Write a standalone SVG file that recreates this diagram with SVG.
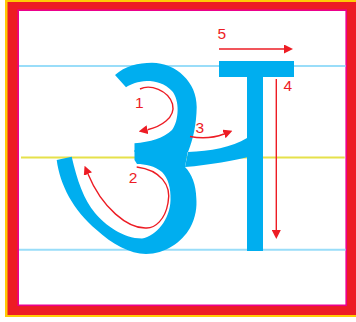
<svg xmlns="http://www.w3.org/2000/svg" width="356" height="322" viewBox="0 0 356 322">
<defs>
<style>
.guide{stroke-width:2;fill:none}
.glyph{fill:#00AEEF}
.arr{stroke:#ED1C24;stroke-width:1.4;fill:none;marker-end:url(#head)}
.num{font-family:"Liberation Sans",Arial,sans-serif;font-size:15.5px;fill:#ED1C24}
</style>
<marker id="head" viewBox="0 0 10 10" refX="0" refY="5" markerUnits="userSpaceOnUse" markerWidth="9" markerHeight="9" orient="auto">
<path d="M0,0 L10,5 L0,10 Z" fill="#ED1C24"/>
</marker>
</defs>
<rect width="356" height="322" fill="#FFFFFF"/>
<g id="frame">
<rect x="5" y="0" width="400" height="317" fill="#FFCB05"/>
<rect x="7.5" y="2" width="400" height="313" fill="#ED1C24"/>
<rect x="18.2" y="10.2" width="328" height="295.1" fill="#FFFFFF" stroke="#EC008C" stroke-width="1.6"/>
</g>
<g id="guides">
<line class="guide" x1="19" y1="66" x2="345.5" y2="66" stroke="#99DDF9"/>
<line class="guide" x1="21" y1="157.6" x2="344.7" y2="157.6" stroke="#E6E14B"/>
<line class="guide" x1="19" y1="249.7" x2="345.5" y2="249.7" stroke="#99DDF9"/>
</g>
<g id="glyph">
<path id="upper-bowl" class="glyph" d="M115,75 C125,66 138,62.7 152,62.7 C176,63 197,82 196.7,107 C196.5,124 193,140 188,152 L134.5,152 L134.5,143.3 C150,142 164,138 172,130 C179,121 180,100 172,91 C165,83.5 156,81 146.7,81 C138,81.5 131,84 126,87.3 Z"/>
<path id="lower-bowl" class="glyph" d="M134.5,150 L188,150 L185,167 C192,174 196,185 196.3,198 C197,207 196,217 190,228 C182,242 165,254 146,254 C130,254 112,244 96.7,230 C73,210 60,185 56.7,160 L71.7,156.7 C77,180 84,200 95,213 C105,225 123,238.5 142,238.5 C156,236 170,220 170.5,200 C171,188 168,178 162,172 C155,166 145,164 137,164 L134.5,160 Z"/>
<path id="connector" class="glyph" d="M188,152 C210,151.5 232,147 247,138 L250,138 L250,156.5 C235,160.5 210,165 185,167 Z"/>
<rect id="stem" class="glyph" x="247" y="61" width="16" height="190"/>
<rect id="headbar" class="glyph" x="219" y="61" width="75" height="16"/>
</g>
<g id="connectors">
<path id="a1" class="arr" d="M140,89 C150,84 168,90 172.5,104 C176,118 160,127 147.5,129.7"/>
<path id="a2" class="arr" d="M136.7,167 C160,170 172,185 168,203 C165,220 155,228 146.7,228 C128,229 102,208 88,174"/>
<path id="a3" class="arr" d="M190,136.5 Q208,140 224,134"/>
<path id="a4" class="arr" d="M276.3,79 V230"/>
<path id="a5" class="arr" d="M219,49 H284"/>
</g>
<g id="labels">
<text class="num" x="135" y="108">1</text>
<text class="num" x="128.7" y="182.7">2</text>
<text class="num" x="195.5" y="132.7">3</text>
<text class="num" x="283.5" y="90.7">4</text>
<text class="num" x="217.5" y="39.3">5</text>
</g>
</svg>
